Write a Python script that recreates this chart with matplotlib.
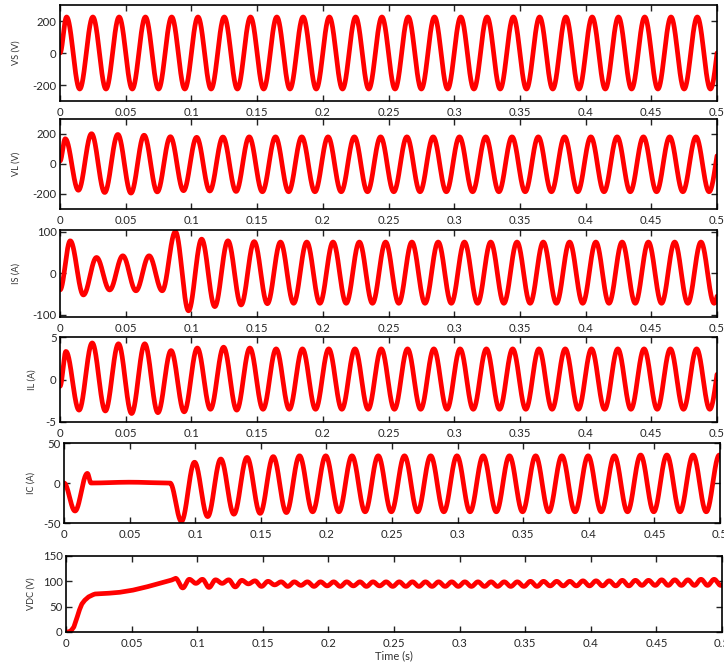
import numpy as np
import matplotlib
matplotlib.use('Agg')
import matplotlib.pyplot as plt
from matplotlib.ticker import FormatStrFormatter

plt.rcParams['font.family'] = ['Lato', 'DejaVu Sans']
plt.rcParams['axes.unicode_minus'] = False

# ---- values (one value per half cycle) ----
# source voltage
vs_start = 0
vs_first_peak = 0.005
vs_pk = [225] * 26
vs_tr = [-225] * 25

# load voltage
vl_start = 20
vl_first_peak = 0.004
vl_pk = [168, 202, 197, 192, 182, 178, 180, 181, 181, 181, 181, 181, 181,
         181, 181, 181, 181, 181, 181, 181, 181, 181, 181, 181, 181, 181]
vl_tr = [-175, -190, -194, -186, -178, -180, -183, -185, -185, -185, -185, -185, -185,
         -185, -185, -185, -185, -185, -185, -185, -185, -185, -185, -185, -185]

# source current
is_start = -40
is_first_peak = 0.0078
is_pk = [78, 38, 42, 42, 100, 82, 78, 76, 75, 75, 75, 75, 75,
         75, 75, 75, 75, 75, 75, 75, 75, 75, 75, 75, 75, 75]
is_tr = [-52, -40, -42, -42, -90, -80, -76, -73, -72, -72, -72, -72, -72,
         -72, -72, -72, -72, -72, -72, -72, -72, -72, -72, -72, -72]

# load current
il_start = -0.8
il_first_peak = 0.0045
il_pk = [3.3, 4.3, 4.2, 4.2, 3.4, 3.7, 3.8, 3.7, 3.6, 3.6, 3.6, 3.6, 3.6,
         3.6, 3.6, 3.6, 3.6, 3.6, 3.6, 3.6, 3.6, 3.6, 3.6, 3.6, 3.6, 3.6]
il_tr = [-3.6, -3.7, -4.0, -3.9, -3.8, -3.5, -3.6, -3.5, -3.5, -3.5, -3.5, -3.5, -3.5,
         -3.5, -3.5, -3.5, -3.5, -3.5, -3.5, -3.5, -3.5, -3.5, -3.5, -3.5, -3.5]

# compensator current: start-up transient, idle, then on
ic_early_t = [0.0, 0.0084, 0.0178, 0.0206, 0.05, 0.0808]
ic_early_v = [0, -35, 12, 0, 1, 0]
ic_first_trough = 0.0895
ic_tr = [-48, -42, -39, -38, -37, -36, -36, -36, -36, -36, -36,
         -36, -36, -36, -36, -36, -36, -36, -36, -36, -36, -36]
ic_pk = [26, 30, 32, 33, 34, 34, 34, 34, 34, 34, 34,
         34, 34, 34, 34, 34, 34, 35, 35, 35, 35]

# dc link voltage: charging ramp then 100 Hz ripple
vdc_rise_t = [0.0, 0.002, 0.004, 0.006, 0.008, 0.010, 0.012, 0.014, 0.017, 0.020,
              0.022, 0.030, 0.040, 0.050, 0.060, 0.070, 0.080, 0.0835]
vdc_rise_v = [0, 0, 3, 10, 25, 42, 55, 62, 69, 73, 75, 76, 78, 82, 88, 95, 102, 106]
vdc_first_trough = 0.089
vdc_tr = [87, 96, 88, 96, 89, 95, 90, 93, 90, 92, 90, 91, 90, 91,
          90, 91, 90, 90, 90, 90, 90, 90, 90, 90, 90, 90, 90, 90,
          91, 91, 91, 91, 91, 91, 91, 92, 92, 92, 92, 92, 92, 92]
vdc_pk = [104, 104, 103, 103, 102, 101, 100, 99, 99, 99, 99, 99, 99, 99,
          99, 99, 99, 99, 99, 99, 99, 99, 99, 99, 99, 99, 100, 100,
          100, 100, 101, 101, 101, 102, 102, 102, 103, 103, 103, 104, 104, 104]

x_ticks = [0, 0.05, 0.1, 0.15, 0.2, 0.25, 0.3, 0.35, 0.4, 0.45, 0.5]


def alt_knots(t_first, first, second):
    """alternating extrema, every half period (10 ms) starting at t_first"""
    ts, vs = [], []
    for k in range(max(len(first), len(second))):
        if k < len(first):
            ts.append(t_first + 0.02 * k)
            vs.append(first[k])
        if k < len(second):
            ts.append(t_first + 0.01 + 0.02 * k)
            vs.append(second[k])
    return ts, vs


def wave(knot_t, knot_v, t):
    # half cosine between successive extrema
    knot_t = np.asarray(knot_t, float)
    knot_v = np.asarray(knot_v, float)
    i = np.clip(np.searchsorted(knot_t, t, side='right') - 1, 0, len(knot_t) - 2)
    s = np.clip((t - knot_t[i]) / (knot_t[i + 1] - knot_t[i]), 0, 1)
    return knot_v[i] + (knot_v[i + 1] - knot_v[i]) * (1 - np.cos(np.pi * s)) / 2


t = np.linspace(0, 0.5, 5001)


def ac_trace(start, t_first, pk, tr):
    kt, kv = alt_knots(t_first, pk, tr)
    return wave([0.0] + kt, [start] + kv, t)


vs = ac_trace(vs_start, vs_first_peak, vs_pk, vs_tr)
vl = ac_trace(vl_start, vl_first_peak, vl_pk, vl_tr)
i_s = ac_trace(is_start, is_first_peak, is_pk, is_tr)
il = ac_trace(il_start, il_first_peak, il_pk, il_tr)

kt, kv = alt_knots(ic_first_trough, ic_tr, ic_pk)
ic = wave(ic_early_t + kt, ic_early_v + kv, t)

# ripple part (peaks sit 5 ms after troughs)
kt = []
kv = []
for k in range(len(vdc_tr)):
    kt += [vdc_first_trough + 0.01 * k, vdc_first_trough + 0.005 + 0.01 * k]
    kv += [vdc_tr[k], vdc_pk[k]]
ripple = wave([vdc_rise_t[-1]] + kt, [vdc_rise_v[-1]] + kv, t)
vdc = np.where(t < vdc_rise_t[-1], np.interp(t, vdc_rise_t, vdc_rise_v), ripple)

# ---- figure ----
W, H = 724, 666
fig = plt.figure(figsize=(W / 100, H / 100), dpi=100)

# (left, right, top, bottom) in pixels, ylabel right edge in px
panels = [
    (vs, 'VS (V)', (-300, 300), [-200, 0, 200], (60, 717, 5, 101), 21),
    (vl, 'VL (V)', (-300, 300), [-200, 0, 200], (60, 717, 119, 209), 21),
    (i_s, 'IS (A)', (-105, 104), [-100, 0, 100], (60, 717, 230, 317), 21),
    (il, 'IL (A)', (-5, 5), [-5, 0, 5], (60, 717, 337, 422), 37),
    (ic, 'IC (A)', (-50, 50), [-50, 0, 50], (64, 720, 443, 523), 36),
    (vdc, 'VDC (V)', (0, 150), [0, 50, 100, 150], (66, 722, 556, 632), 36),
]

for y, lab, ylim, yt, (l, r, tp, b), lab_x in panels:
    ax = fig.add_axes([l / W, (H - b) / H, (r - l) / W, (b - tp) / H])
    ax.plot(t, y, color='#ff0000', lw=3.4, solid_capstyle='round')
    ax.set_xlim(0, 0.5)
    ax.set_ylim(*ylim)
    ax.set_xticks(x_ticks)
    ax.xaxis.set_major_formatter(FormatStrFormatter('%g'))
    ax.set_yticks(yt)
    ax.tick_params(axis='both', direction='in', top=True, right=True, length=4, width=1,
                   labelsize=8.2, colors='#222222', labelcolor='#262626')
    ax.tick_params(axis='x', pad=4.5)
    ax.tick_params(axis='y', pad=2.5)
    for sp in ax.spines.values():
        sp.set_linewidth(1.2)
        sp.set_color('black')
    ax.set_ylabel(lab, fontsize=6.6, color='#333333')
    ax.yaxis.set_label_coords((lab_x - l) / (r - l), 0.5)

ax.set_xlabel('Time (s)', fontsize=8.0, color='#333333', labelpad=0.5)

fig.savefig('out.png', dpi=100)
